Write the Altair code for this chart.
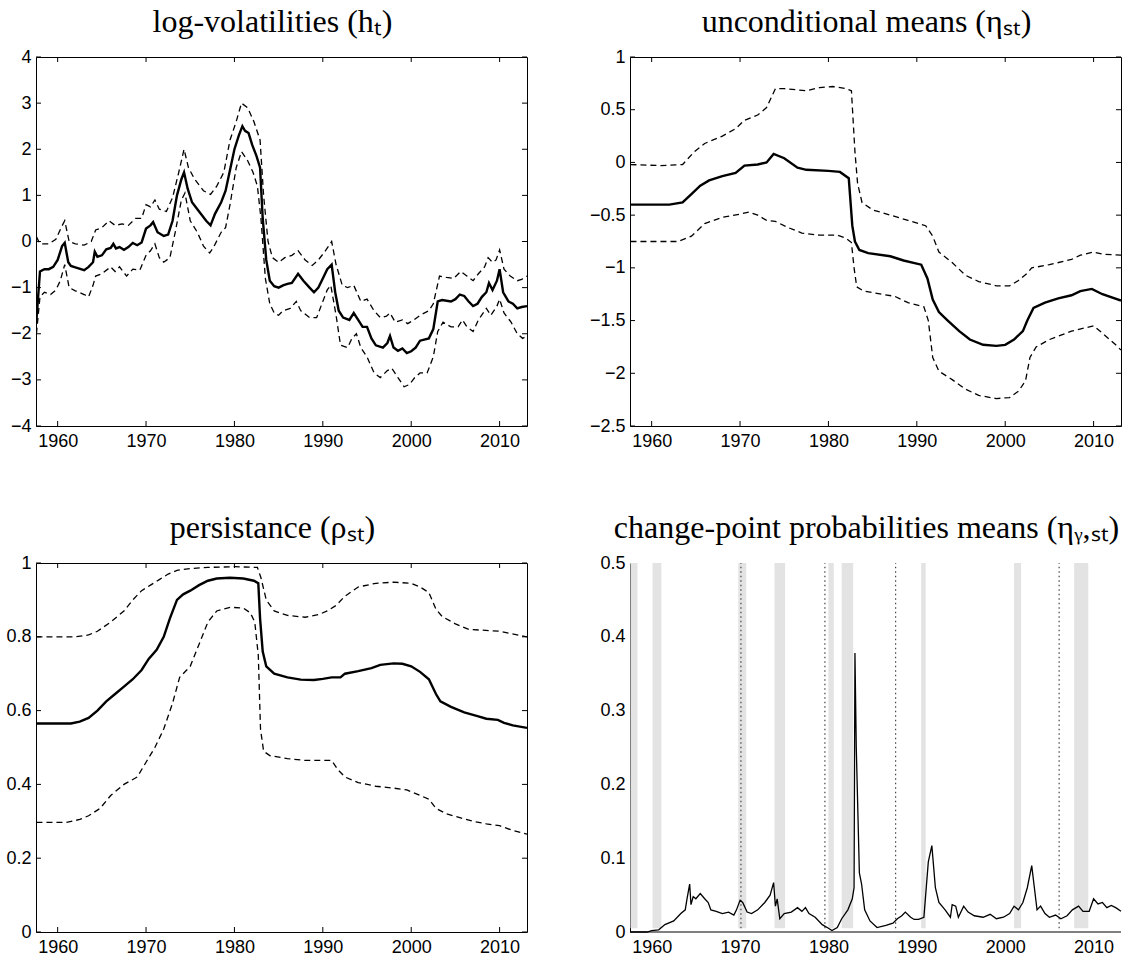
import altair as alt
import pandas as pd

X_DOMAIN = [1957.55, 2013.1]
YEAR_TICKS = [1960, 1970, 1980, 1990, 2000, 2010]

# ---------------- Panel 1: log-volatilities ----------------
h_med_t = [1957.6, 1958.0, 1958.5, 1959.0, 1959.5, 1960.0, 1960.5, 1960.8, 1961.2, 1961.5, 1962.0, 1963.0,
           1963.5, 1964.0, 1964.2, 1964.5, 1965.0, 1965.5, 1966.0, 1966.3, 1966.6, 1967.0, 1967.5, 1968.0,
           1968.5, 1969.0, 1969.5, 1970.0, 1970.5, 1970.8, 1971.3, 1972.0, 1972.5, 1973.0, 1973.5, 1974.0,
           1974.3, 1974.7, 1975.2, 1976.0, 1976.8, 1977.3, 1977.8, 1978.5, 1979.0, 1979.5, 1980.0, 1980.5,
           1980.9, 1981.2, 1981.6, 1982.0, 1982.5, 1982.9, 1983.2, 1983.6, 1984.0, 1984.5, 1985.0, 1985.5,
           1986.0, 1986.5, 1987.2, 1987.8, 1988.5, 1989.0, 1989.5, 1990.0, 1990.5, 1991.0, 1991.4, 1991.8,
           1992.3, 1993.0, 1993.5, 1994.0, 1994.5, 1995.0, 1995.5, 1996.0, 1996.8, 1997.3, 1997.6, 1998.0,
           1998.5, 1999.0, 1999.5, 2000.0, 2000.5, 2001.0, 2002.0, 2002.5, 2003.0, 2003.5, 2004.5, 2005.0,
           2005.5, 2006.0, 2006.5, 2007.0, 2007.5, 2008.0, 2008.5, 2008.8, 2009.2, 2009.7, 2010.0, 2010.4,
           2011.0, 2011.5, 2012.0, 2012.5, 2013.1]
h_med_v = [-1.7, -0.65, -0.6, -0.6, -0.55, -0.4, -0.1, -0.03, -0.45, -0.53, -0.56, -0.62,
           -0.55, -0.45, -0.22, -0.33, -0.3, -0.17, -0.14, -0.05, -0.15, -0.12, -0.18, -0.12,
           -0.03, -0.08, -0.02, 0.28, 0.35, 0.42, 0.2, 0.12, 0.15, 0.45, 1.0, 1.35,
           1.5, 1.15, 0.85, 0.65, 0.45, 0.35, 0.6, 0.85, 1.1, 1.55, 2.0, 2.3,
           2.5, 2.4, 2.35, 2.1, 1.85, 1.6, 0.5, -0.4, -0.85, -0.97, -1.0, -0.95,
           -0.92, -0.9, -0.7, -0.85, -1.0, -1.1, -1.0, -0.8, -0.6, -0.5, -1.1, -1.5,
           -1.65, -1.7, -1.55, -1.7, -1.85, -1.85, -2.1, -2.25, -2.3, -2.2, -2.05, -2.3,
           -2.37, -2.32, -2.42, -2.38, -2.3, -2.15, -2.1, -1.9, -1.3, -1.27, -1.3, -1.25,
           -1.15, -1.18, -1.3, -1.4, -1.35, -1.2, -1.1, -0.9, -1.05, -0.85, -0.6, -1.1,
           -1.3, -1.35, -1.45, -1.42, -1.4]

h_up_t = [1957.6, 1958.0, 1959.0, 1959.8, 1960.4, 1960.8, 1961.3, 1962.0, 1963.0, 1963.8, 1964.3, 1965.0,
          1965.8, 1966.5, 1967.3, 1968.0, 1968.8, 1969.5, 1970.0, 1970.5, 1971.0, 1971.5, 1972.3, 1973.0,
          1973.7, 1974.3, 1974.8, 1975.5, 1976.5, 1977.3, 1978.0, 1978.8, 1979.5, 1980.2, 1980.8, 1981.5,
          1982.2, 1982.9, 1983.3, 1983.8, 1984.3, 1985.0, 1985.7, 1986.5, 1987.2, 1988.0, 1988.8, 1989.5,
          1990.3, 1991.0, 1991.5, 1992.2, 1992.8, 1993.5, 1994.3, 1995.0, 1995.8, 1996.5, 1997.2, 1997.6,
          1998.2, 1999.0, 1999.6, 2000.3, 2001.0, 2002.0, 2002.5, 2003.2, 2004.0, 2004.8, 2005.6, 2006.3,
          2007.0, 2007.6, 2008.3, 2008.7, 2009.2, 2009.6, 2010.0, 2010.5, 2011.2, 2012.0, 2012.5, 2013.1]
h_up_v = [0.1, -0.05, -0.05, 0.05, 0.3, 0.45, 0.0, -0.05, -0.08, 0.0, 0.25, 0.3,
          0.45, 0.35, 0.38, 0.35, 0.5, 0.5, 0.8, 0.75, 0.9, 0.7, 0.65, 0.95,
          1.5, 2.0, 1.6, 1.35, 1.1, 1.02, 1.2, 1.5, 2.2, 2.6, 3.0, 2.9,
          2.6, 2.2, 1.0, 0.0, -0.35, -0.45, -0.35, -0.3, -0.2, -0.4, -0.52, -0.4,
          -0.2, 0.0, -0.5, -0.95, -1.0, -0.95, -1.3, -1.25, -1.5, -1.65, -1.62, -1.55,
          -1.75, -1.7, -1.78, -1.7, -1.6, -1.5, -1.35, -0.75, -0.78, -0.8, -0.65, -0.75,
          -0.85, -0.7, -0.55, -0.35, -0.45, -0.4, -0.18, -0.6, -0.75, -0.85, -0.82, -0.75]

h_lo_t = [1957.6, 1958.0, 1958.5, 1959.2, 1959.8, 1960.3, 1960.8, 1961.3, 1962.0, 1963.0, 1963.5, 1964.0,
          1964.3, 1965.0, 1966.0, 1966.5, 1967.0, 1967.8, 1968.5, 1969.3, 1970.0, 1970.5, 1971.0, 1971.5,
          1972.0, 1972.7, 1973.3, 1974.0, 1974.4, 1975.0, 1975.8, 1976.5, 1977.2, 1977.7, 1978.5, 1979.0,
          1979.5, 1980.2, 1980.8, 1981.5, 1982.1, 1982.6, 1983.0, 1983.5, 1984.0, 1984.5, 1985.0, 1985.5,
          1986.3, 1987.0, 1987.5, 1988.5, 1989.3, 1990.0, 1990.5, 1990.9, 1991.5, 1992.0, 1992.8, 1993.3,
          1993.8, 1994.3, 1995.0, 1995.8, 1996.5, 1997.3, 1997.8, 1998.5, 1999.2, 1999.8, 2000.4, 2001.0,
          2001.8, 2002.5, 2003.0, 2003.6, 2004.5, 2005.3, 2005.8, 2006.3, 2007.0, 2007.6, 2008.5, 2009.0,
          2009.7, 2010.0, 2010.5, 2011.3, 2012.0, 2012.6, 2013.1]
h_lo_v = [-2.0, -1.2, -1.1, -1.15, -1.05, -0.85, -0.5, -1.0, -1.07, -1.15, -1.2, -0.95,
          -0.75, -0.7, -0.55, -0.65, -0.55, -0.75, -0.6, -0.62, -0.3, -0.2, -0.05, -0.35,
          -0.45, -0.35, 0.2, 0.9, 1.05, 0.45, 0.2, -0.1, -0.25, -0.1, 0.2, 0.3,
          0.8, 1.6, 1.95, 1.75, 1.5, 1.2, 0.5, -0.8, -1.35, -1.55, -1.6, -1.5,
          -1.45, -1.3, -1.5, -1.65, -1.65, -1.3, -1.05, -0.95, -1.6, -2.25, -2.3, -2.1,
          -2.0, -2.3, -2.5, -2.85, -2.95, -2.8, -2.75, -2.95, -3.15, -3.1, -2.95, -2.85,
          -2.85, -2.5, -1.95, -1.75, -1.85, -1.85, -1.7, -1.85, -1.95, -1.7, -1.45, -1.6,
          -1.4, -1.25, -1.55, -1.75, -2.0, -2.1, -2.05]

# ---------------- Panel 2: unconditional means ----------------
m_med_t = [1957.6, 1962.0, 1963.5, 1964.5, 1965.5, 1966.5, 1968.0, 1969.5, 1970.5, 1972.0, 1973.0, 1973.8,
           1975.0, 1976.5, 1977.5, 1980.0, 1981.3, 1982.3, 1982.7, 1983.0, 1983.5, 1984.5, 1987.0, 1988.5,
           1990.5, 1991.2, 1991.8, 1992.5, 1993.5, 1994.8, 1996.0, 1997.5, 1999.0, 2000.0, 2001.0, 2002.0,
           2002.5, 2003.2, 2004.5, 2006.0, 2007.5, 2008.5, 2009.8, 2011.0, 2013.1]
m_med_v = [-0.4, -0.4, -0.38, -0.3, -0.22, -0.17, -0.13, -0.1, -0.03, -0.02, 0.0, 0.08,
           0.04, -0.05, -0.07, -0.08, -0.09, -0.15, -0.6, -0.75, -0.83, -0.86, -0.89, -0.93,
           -0.97, -1.1, -1.3, -1.42, -1.5, -1.6, -1.68, -1.73, -1.74, -1.73, -1.68, -1.6,
           -1.5, -1.38, -1.33, -1.29, -1.26, -1.22, -1.2, -1.25, -1.31]

m_up_t = [1957.6, 1961.0, 1963.5, 1964.8, 1966.0, 1968.0, 1969.5, 1970.5, 1972.0, 1973.0, 1974.0, 1975.0,
          1977.5, 1979.0, 1980.5, 1982.0, 1982.6, 1983.0, 1983.3, 1983.8, 1985.0, 1987.0, 1989.0, 1991.0,
          1991.8, 1992.5, 1994.0, 1995.5, 1997.0, 1999.0, 2000.5, 2001.5, 2002.5, 2003.0, 2005.0, 2007.5,
          2008.5, 2010.0, 2011.0, 2013.1]
m_up_v = [-0.02, -0.03, -0.02, 0.1, 0.18, 0.25, 0.32, 0.4, 0.45, 0.52, 0.7, 0.7,
          0.68, 0.71, 0.72, 0.7, 0.68, 0.1, -0.2, -0.38, -0.45, -0.5, -0.55, -0.6,
          -0.7, -0.85, -0.95, -1.07, -1.13, -1.17, -1.17, -1.12, -1.05, -1.0, -0.97, -0.92,
          -0.88, -0.85, -0.87, -0.88]

m_lo_t = [1957.6, 1963.0, 1964.5, 1966.0, 1968.0, 1970.0, 1971.0, 1972.0, 1973.0, 1974.0, 1975.5, 1977.0,
          1979.0, 1981.0, 1982.0, 1982.6, 1982.9, 1983.2, 1984.0, 1986.0, 1987.5, 1989.0, 1990.8, 1991.3,
          1991.8, 1992.5, 1994.0, 1995.5, 1997.0, 1999.0, 2000.5, 2001.5, 2002.3, 2002.8, 2003.5, 2005.0,
          2007.5, 2009.0, 2010.0, 2011.0, 2012.5, 2013.1]
m_lo_v = [-0.75, -0.75, -0.7, -0.58, -0.52, -0.49, -0.47, -0.5, -0.55, -0.56, -0.62, -0.67,
          -0.69, -0.69, -0.72, -0.76, -1.0, -1.18, -1.22, -1.25, -1.27, -1.33, -1.37, -1.5,
          -1.85, -1.98, -2.06, -2.15, -2.21, -2.24, -2.23, -2.17, -2.07, -1.85, -1.75, -1.68,
          -1.6, -1.57, -1.55, -1.62, -1.73, -1.78]

# ---------------- Panel 3: persistance ----------------
p_med_t = [1957.6, 1961.5, 1962.5, 1963.5, 1964.5, 1965.5, 1966.5, 1967.5, 1968.5, 1969.5, 1970.3, 1971.2,
           1972.0, 1972.7, 1973.5, 1974.2, 1975.0, 1976.0, 1977.0, 1978.0, 1979.5, 1981.0, 1982.2, 1982.7,
           1982.9, 1983.2, 1983.6, 1984.5, 1986.0, 1987.5, 1989.0, 1990.0, 1991.0, 1992.0, 1992.5, 1994.0,
           1995.5, 1996.5, 1998.0, 1999.0, 2000.0, 2001.0, 2002.0, 2002.8, 2003.3, 2004.5, 2006.0, 2007.5,
           2008.5, 2009.8, 2010.5, 2011.5, 2013.1]
p_med_v = [0.565, 0.565, 0.57, 0.58, 0.6, 0.625, 0.645, 0.665, 0.685, 0.71, 0.74, 0.765,
           0.8, 0.85, 0.9, 0.915, 0.925, 0.94, 0.952, 0.958, 0.96, 0.958, 0.952, 0.945,
           0.85, 0.76, 0.72, 0.7, 0.69, 0.684, 0.683, 0.686, 0.69, 0.69, 0.7, 0.707,
           0.715, 0.724, 0.728, 0.727, 0.72, 0.705, 0.685, 0.645, 0.625, 0.61, 0.595, 0.585,
           0.578, 0.575, 0.567, 0.56, 0.553]

p_up_t = [1957.6, 1962.0, 1963.5, 1964.5, 1966.0, 1967.5, 1968.5, 1969.5, 1970.5, 1971.5, 1972.5, 1973.5,
          1975.0, 1977.0, 1980.0, 1982.6, 1983.0, 1983.6, 1984.5, 1986.0, 1988.0, 1989.5, 1990.5, 1991.5,
          1992.5, 1994.0, 1996.0, 1998.0, 2000.0, 2001.0, 2002.0, 2002.8, 2003.5, 2005.0, 2006.5, 2008.0,
          2010.0, 2011.0, 2013.1]
p_up_v = [0.8, 0.8, 0.805, 0.815, 0.84, 0.87, 0.9, 0.925, 0.94, 0.955, 0.97, 0.98,
          0.985, 0.988, 0.99, 0.988, 0.96, 0.9, 0.87, 0.858, 0.853, 0.86, 0.87, 0.885,
          0.91, 0.935, 0.945, 0.948, 0.945, 0.935, 0.92, 0.875, 0.855, 0.835, 0.82, 0.818,
          0.815, 0.81, 0.8]

p_lo_t = [1957.6, 1961.0, 1962.5, 1963.5, 1964.8, 1966.0, 1967.5, 1969.0, 1970.0, 1971.0, 1972.0, 1973.0,
          1973.8, 1975.0, 1976.0, 1977.0, 1978.0, 1979.5, 1981.0, 1981.8, 1982.3, 1982.7, 1982.95, 1983.3,
          1984.0, 1986.0, 1988.0, 1990.0, 1991.0, 1991.7, 1992.5, 1994.0, 1996.0, 1998.0, 1999.5, 2001.0,
          2002.0, 2002.8, 2004.0, 2005.5, 2007.0, 2008.5, 2010.0, 2011.5, 2013.1]
p_lo_v = [0.297, 0.297, 0.305, 0.315, 0.335, 0.37, 0.4, 0.42, 0.46, 0.5, 0.55, 0.62,
          0.69, 0.72, 0.78, 0.84, 0.87, 0.88, 0.878, 0.865, 0.84, 0.75, 0.55, 0.49,
          0.478, 0.47, 0.465, 0.465, 0.465, 0.44, 0.42, 0.405, 0.395, 0.39, 0.385, 0.37,
          0.36, 0.335, 0.32, 0.31, 0.3, 0.293, 0.288, 0.275, 0.265]

# ---------------- Panel 4: change-point probabilities ----------------
c_t = [1957.6, 1959.5, 1960.0, 1960.8, 1961.5, 1962.5, 1963.3, 1963.8, 1964.0, 1964.3, 1964.45, 1964.7,
       1965.0, 1965.5, 1966.0, 1966.4, 1966.7, 1967.3, 1968.0, 1968.7, 1969.3, 1969.6, 1970.0, 1970.3,
       1970.8, 1971.3, 1972.0, 1972.8, 1973.4, 1973.8, 1974.0, 1974.2, 1974.5, 1975.0, 1975.8, 1976.5,
       1977.0, 1977.4, 1977.8, 1978.5, 1979.3, 1980.0, 1980.4, 1981.0, 1981.5, 1982.2, 1982.7, 1982.9,
       1983.0, 1983.15, 1983.5, 1983.75, 1984.1, 1984.7, 1985.5, 1986.5, 1987.3, 1987.8, 1988.3, 1988.7,
       1989.3, 1989.7, 1990.2, 1990.8, 1991.3, 1991.7, 1992.1, 1992.5, 1993.2, 1993.8, 1994.0, 1994.4,
       1994.7, 1995.3, 1995.8, 1996.5, 1997.5, 1998.3, 1999.0, 1999.8, 2000.5, 2001.0, 2001.5, 2002.0,
       2002.5, 2003.0, 2003.3, 2003.6, 2004.0, 2004.5, 2005.0, 2005.7, 2006.3, 2007.0, 2007.6, 2008.3,
       2008.8, 2009.5, 2010.0, 2010.5, 2011.0, 2011.5, 2012.0, 2012.5, 2013.1]
c_v = [0.0, 0.0, 0.002, 0.003, 0.01, 0.015, 0.025, 0.03, 0.045, 0.065, 0.037, 0.048,
       0.045, 0.052, 0.045, 0.04, 0.03, 0.028, 0.025, 0.027, 0.023, 0.03, 0.043, 0.04,
       0.027, 0.025, 0.03, 0.04, 0.05, 0.067, 0.035, 0.045, 0.018, 0.025, 0.027, 0.033,
       0.028, 0.033, 0.025, 0.02, 0.01, 0.005, 0.002, 0.006, 0.018, 0.03, 0.045, 0.06,
       0.378, 0.25, 0.08, 0.065, 0.03, 0.015, 0.006, 0.009, 0.012, 0.018, 0.022, 0.027,
       0.02, 0.017, 0.017, 0.02, 0.095, 0.117, 0.06, 0.04, 0.03, 0.02, 0.037, 0.035,
       0.02, 0.035, 0.027, 0.022, 0.02, 0.024, 0.018, 0.02, 0.025, 0.035, 0.03, 0.04,
       0.06, 0.09, 0.06, 0.03, 0.035, 0.025, 0.02, 0.023, 0.018, 0.022, 0.03, 0.035,
       0.028, 0.028, 0.045, 0.038, 0.04, 0.033, 0.036, 0.033, 0.028]

rec_start = [1957.6, 1960.1, 1969.8, 1973.9, 1980.0, 1981.5, 1990.5, 2001.0, 2007.8]
rec_end = [1958.4, 1961.1, 1970.7, 1975.1, 1980.6, 1982.8, 1991.0, 2001.8, 2009.4]
chair_dates = [1970.1, 1979.6, 1987.6, 2006.1]

# ---------------- layout constants ----------------
W, H = 491, 369
LABEL_FONT = "Liberation Sans"
TITLE_FONT = "Liberation Serif"
TICK_LEN = 5
LABEL_SIZE = 18


def xaxis():
    return alt.Axis(values=YEAR_TICKS, format="d", title=None, ticks=False, domain=False, grid=False,
                    labelFont=LABEL_FONT, labelFontSize=LABEL_SIZE, labelColor="black", labelPadding=6,
                    labelFlush=False)


def yaxis(vals, domain=False):
    return alt.Axis(values=vals, format=".1~f", title=None, ticks=False, domain=domain, grid=False,
                    labelFont=LABEL_FONT, labelFontSize=LABEL_SIZE, labelColor="black", labelPadding=5,
                    labelFlush=False, domainColor="black", domainWidth=1)


def xenc(field="t"):
    return alt.X(f"{field}:Q", scale=alt.Scale(domain=X_DOMAIN, nice=False, zero=False), axis=xaxis())


def yenc(ydom, yvals, field="y", domain=False):
    return alt.Y(f"{field}:Q", scale=alt.Scale(domain=ydom, nice=False, zero=False),
                 axis=yaxis(yvals, domain))


def line(t, v, ydom, yvals, dashed, width):
    df = pd.DataFrame({"t": t, "y": v})
    kw = dict(color="black", strokeWidth=width, clip=True)
    if dashed:
        kw["strokeDash"] = [6, 4]
    return alt.Chart(df).mark_line(**kw).encode(x=xenc(), y=yenc(ydom, yvals))


def tick_layers(ydom, yvals):
    xt = pd.DataFrame({"t": YEAR_TICKS})
    yt = pd.DataFrame({"y": yvals})
    rk = dict(color="black", strokeWidth=1)
    return [
        alt.Chart(xt).mark_rule(**rk).encode(x=xenc(), y=alt.value(H), y2=alt.value(H - TICK_LEN)),
        alt.Chart(xt).mark_rule(**rk).encode(x=xenc(), y=alt.value(0), y2=alt.value(TICK_LEN)),
        alt.Chart(yt).mark_rule(**rk).encode(y=yenc(ydom, yvals), x=alt.value(0), x2=alt.value(TICK_LEN)),
        alt.Chart(yt).mark_rule(**rk).encode(y=yenc(ydom, yvals), x=alt.value(W), x2=alt.value(W - TICK_LEN)),
    ]


def title(text):
    return alt.TitleParams(text=text, font=TITLE_FONT, fontSize=32, fontWeight="normal", color="black",
                           anchor="middle", offset=9, dx=-9)


def band_panel(med, up, lo, ydom, yvals, ttl):
    layers = [
        line(up[0], up[1], ydom, yvals, True, 1.3),
        line(lo[0], lo[1], ydom, yvals, True, 1.3),
        line(med[0], med[1], ydom, yvals, False, 2.4),
    ] + tick_layers(ydom, yvals)
    return alt.layer(*layers).properties(
        width=W, height=H, title=title(ttl),
        view=alt.ViewBackground(stroke="black", strokeWidth=1))


p1 = band_panel((h_med_t, h_med_v), (h_up_t, h_up_v), (h_lo_t, h_lo_v), [-4, 4],
                [-4, -3, -2, -1, 0, 1, 2, 3, 4], "log-volatilities (hₜ)")
p2 = band_panel((m_med_t, m_med_v), (m_up_t, m_up_v), (m_lo_t, m_lo_v), [-2.5, 1],
                [-2.5, -2, -1.5, -1, -0.5, 0, 0.5, 1], "unconditional means (ηₛₜ)")
p3 = band_panel((p_med_t, p_med_v), (p_up_t, p_up_v), (p_lo_t, p_lo_v), [0, 1],
                [0, 0.2, 0.4, 0.6, 0.8, 1], "persistance (ρₛₜ)")

# Panel 4
Y4 = [0, 0.5]
Y4V = [0, 0.1, 0.2, 0.3, 0.4, 0.5]
rec_df = pd.DataFrame({"t": rec_start, "t2": rec_end, "y": [0.005] * len(rec_start),
                       "y2": [0.5] * len(rec_start)})
bars = alt.Chart(rec_df).mark_rect(color="#e3e3e3").encode(
    x=xenc(), x2="t2:Q", y=yenc(Y4, Y4V, domain=True), y2="y2:Q")
chair_df = pd.DataFrame({"t": chair_dates, "y": [0.005] * len(chair_dates), "y2": [0.5] * len(chair_dates)})
chairs = alt.Chart(chair_df).mark_rule(color="#444444", strokeWidth=1.2, strokeDash=[1.5, 3]).encode(
    x=xenc(), y=yenc(Y4, Y4V, domain=True), y2="y2:Q")
cline = alt.Chart(pd.DataFrame({"t": c_t, "y": c_v})).mark_line(color="black", strokeWidth=1.3).encode(
    x=xenc(), y=yenc(Y4, Y4V, domain=True))
xdom_line = alt.Chart(pd.DataFrame({"t": [X_DOMAIN[0]]})).mark_rule(
    color="black", strokeWidth=1).encode(x=alt.value(0), x2=alt.value(W), y=alt.value(H))
p4 = alt.layer(bars, chairs, cline, xdom_line).properties(
    width=W, height=H, title=title("change-point probabilities means (ηᵧ,ₛₜ)"),
    view=alt.ViewBackground(stroke=None))

chart = alt.concat(p1, p2, p3, p4, columns=2, spacing=alt.RowColnumber(column=103, row=137),
                   bounds="flush").properties(
    padding={"left": 5, "top": 5, "right": 0, "bottom": 0}
).configure_view(stroke=None).configure(background="white")

chart.save("out.html", embed_options={"renderer": "svg", "actions": False})
